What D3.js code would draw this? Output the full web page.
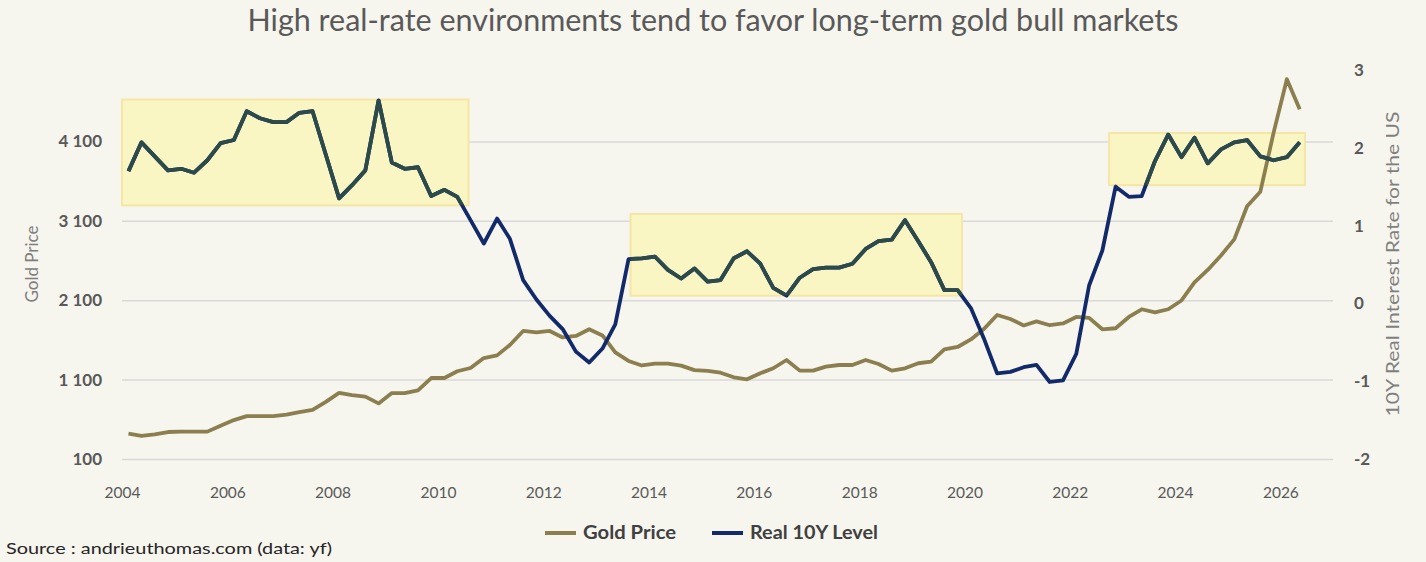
<!DOCTYPE html>
<html>
<head>
<meta charset="utf-8">
<script src="https://cdn.jsdelivr.net/npm/d3@7"></script>
<style>
	body	{margin:0; background:#f6f5ee;}
	svg	{display:block; font-family:Lato, "Open Sans", sans-serif;}
</style>
</head>
<body>
<svg id="chart" width="1426" height="562"></svg>
<script>
// quarterly points, first one mid-February 2004
var	goldPrice	= [419,390,410,440,445,445,445,520,590,640,640,640,660,690,720,820,932,905,885,800,
			   930,930,965,1120,1120,1205,1246,1372,1405,1536,1713,1694,1713,1631,1650,1734,1656,1442,1335,1278,
			   1301,1301,1276,1219,1209,1187,1129,1104,1180,1243,1347,1213,1213,1263,1284,1284,1347,1297,1213,1243,
			   1306,1326,1480,1511,1606,1738,1914,1864,1782,1833,1785,1807,1889,1877,1734,1747,1889,1986,1946,1986,
			   2097,2324,2481,2664,2866,3284,3467,4211,4884,4506],
	realRate	= [1.70,2.07,1.89,1.71,1.73,1.68,1.84,2.06,2.10,2.47,2.38,2.33,2.33,2.45,2.47,1.91,1.35,1.52,1.71,2.61,
			   1.81,1.73,1.75,1.38,1.46,1.37,1.07,0.77,1.09,0.83,0.30,0.05,-0.16,-0.33,-0.62,-0.76,-0.58,-0.27,0.57,0.58,
			   0.60,0.43,0.32,0.45,0.28,0.30,0.58,0.67,0.51,0.20,0.10,0.33,0.44,0.46,0.46,0.51,0.70,0.80,0.82,1.07,
			   0.80,0.53,0.17,0.17,-0.06,-0.45,-0.90,-0.88,-0.82,-0.79,-1.01,-0.99,-0.65,0.23,0.68,1.50,1.37,1.38,1.83,2.17,
			   1.88,2.13,1.80,1.98,2.07,2.10,1.89,1.84,1.88,2.07],
	firstQuarter	= new Date(2004, 1, 15),
	yearTicks	= [2004,2006,2008,2010,2012,2014,2016,2018,2020,2022,2024,2026],
	goldTicks	= [100,1100,2100,3100,4100],
	rateTicks	= [-2,-1,0,1,2,3],
	zoneStart	= ["2004-01-01","2013-08-29","2022-10-01"],
	zoneEnd		= ["2010-08-01","2019-12-15","2026-06-20"],
	zoneHigh	= [2.62,1.15,2.19],
	zoneLow		= [1.26,0.10,1.52];

function drawChart() {
	var	svg	= d3.select("#chart"),
		plotL	= 122, plotR = 1333, plotT = 70, plotB = 459,
		dates	= d3.range(goldPrice.length).map(function(i) { return d3.timeMonth.offset(firstQuarter, 3*i); }),
		x	= d3.scaleTime().domain([new Date(2004,0,1), new Date(2027,0,1)]).range([plotL, plotR]),
		yGold	= d3.scaleLinear().domain([100, 5000]).range([plotB, plotT]),
		yRate	= d3.scaleLinear().domain([-2, 3]).range([plotB, plotT]),
		fmtGold	= d3.formatLocale({decimal:".", thousands:" ", grouping:[3], currency:["",""]}).format(","),
		parse	= d3.timeParse("%Y-%m-%d"),
		zones	= zoneStart.map(function(d, i) {
				return {x0:parse(d), x1:parse(zoneEnd[i]), hi:zoneHigh[i], lo:zoneLow[i]};
			});

	svg.append("rect").attr("width", 1426).attr("height", 562).attr("fill", "#f6f5ee");

	svg.append("text").attr("x", 713).attr("y", 31).attr("text-anchor", "middle")
		.attr("font-size", 30).attr("fill", "#595959")
		.attr("textLength", 931).attr("lengthAdjust", "spacingAndGlyphs")
		.text("High real-rate environments tend to favor long-term gold bull markets");

	// gridlines follow the gold axis
	svg.append("g").attr("transform", "translate("+plotL+",0)")
		.call(d3.axisLeft(yGold).tickValues(goldTicks).tickSize(-(plotR-plotL)).tickFormat(""))
		.call(function(g) {
			g.select(".domain").remove();
			g.selectAll("line").attr("stroke", "#d9d9d9").attr("stroke-width", 1.5);
		});

	svg.append("g").attr("transform", "translate(102,0)")
		.call(d3.axisLeft(yGold).tickValues(goldTicks).tickSize(0).tickPadding(0).tickFormat(fmtGold))
		.call(function(g) {
			g.select(".domain").remove();
			g.selectAll("text").attr("font-family", "Lato").attr("font-size", 17)
				.attr("font-weight", "bold").attr("fill", "#595959");
		});

	svg.append("g").attr("transform", "translate(1354,0)")
		.call(d3.axisRight(yRate).tickValues(rateTicks).tickSize(0).tickPadding(0).tickFormat(function(d) { return String(d); }))
		.call(function(g) {
			g.select(".domain").remove();
			g.selectAll("text").attr("font-family", "Lato").attr("font-size", 17)
				.attr("font-weight", "bold").attr("fill", "#595959");
		});

	svg.append("g").attr("transform", "translate(0,"+plotB+")")
		.call(d3.axisBottom(x).tickValues(yearTicks.map(function(y) { return new Date(y,0,1); }))
			.tickSize(0).tickPadding(28).tickFormat(d3.timeFormat("%Y")))
		.call(function(g) {
			g.select(".domain").remove();
			g.selectAll("text").attr("font-family", "Lato").attr("font-size", 15.5).attr("fill", "#595959");
		});

	svg.append("text").attr("transform", "translate(38,264) rotate(-90)").attr("text-anchor", "middle")
		.attr("font-size", 17).attr("fill", "#7f7f7f").text("Gold Price");
	svg.append("text").attr("transform", "translate(1399,264) rotate(-90)").attr("text-anchor", "middle")
		.attr("font-size", 17).attr("fill", "#7f7f7f")
		.attr("textLength", 305).attr("lengthAdjust", "spacingAndGlyphs")
		.text("10Y Real Interest Rate for the US");

	svg.append("g").selectAll("rect").data(zones).enter().append("rect")
		.attr("x", function(d) { return x(d.x0); })
		.attr("y", function(d) { return yRate(d.hi); })
		.attr("width", function(d) { return x(d.x1) - x(d.x0); })
		.attr("height", function(d) { return yRate(d.lo) - yRate(d.hi); })
		.attr("fill", "#faf6c4").attr("stroke", "#f5e6a3").attr("stroke-width", 2);

	svg.append("clipPath").attr("id", "zoneClip").selectAll("rect").data(zones).enter().append("rect")
		.attr("x", function(d) { return x(d.x0); })
		.attr("y", function(d) { return yRate(d.hi); })
		.attr("width", function(d) { return x(d.x1) - x(d.x0); })
		.attr("height", function(d) { return yRate(d.lo) - yRate(d.hi); });

	var	goldLine	= d3.line().x(function(d, i) { return x(dates[i]); }).y(function(d) { return yGold(d); }),
		rateLine	= d3.line().x(function(d, i) { return x(dates[i]); }).y(function(d) { return yRate(d); });

	svg.append("path").datum(goldPrice).attr("d", goldLine)
		.attr("fill", "none").attr("stroke", "#8c7f4f").attr("stroke-width", 3.8).attr("stroke-linejoin", "round");
	svg.append("path").datum(realRate).attr("d", rateLine)
		.attr("fill", "none").attr("stroke", "#12296a").attr("stroke-width", 3.8).attr("stroke-linejoin", "round");
	// inside the highlighted periods the rate line reads as dark teal
	svg.append("path").datum(realRate).attr("d", rateLine).attr("clip-path", "url(#zoneClip)")
		.attr("fill", "none").attr("stroke", "#2c4a49").attr("stroke-width", 3.8).attr("stroke-linejoin", "round");

	var	legend	= svg.append("g").attr("transform", "translate(0,533)"),
		items	= [{label:"Gold Price", color:"#8c7f4f", x:545, w:93}, {label:"Real 10Y Level", color:"#12296a", x:712, w:128}];
	legend.selectAll("line").data(items).enter().append("line")
		.attr("x1", function(d) { return d.x; }).attr("x2", function(d) { return d.x + 31; })
		.attr("stroke", function(d) { return d.color; }).attr("stroke-width", 4);
	legend.selectAll("text").data(items).enter().append("text")
		.attr("x", function(d) { return d.x + 38; }).attr("dy", "0.35em")
		.attr("font-size", 18).attr("font-weight", "bold").attr("fill", "#404040")
		.attr("textLength", function(d) { return d.w; }).attr("lengthAdjust", "spacingAndGlyphs")
		.text(function(d) { return d.label; });

	svg.append("text").attr("x", 6).attr("y", 554).attr("font-size", 16).attr("fill", "#262626")
		.attr("textLength", 326).attr("lengthAdjust", "spacingAndGlyphs")
		.text("Source : andrieuthomas.com (data: yf)");
}

drawChart();
</script>
</body>
</html>
